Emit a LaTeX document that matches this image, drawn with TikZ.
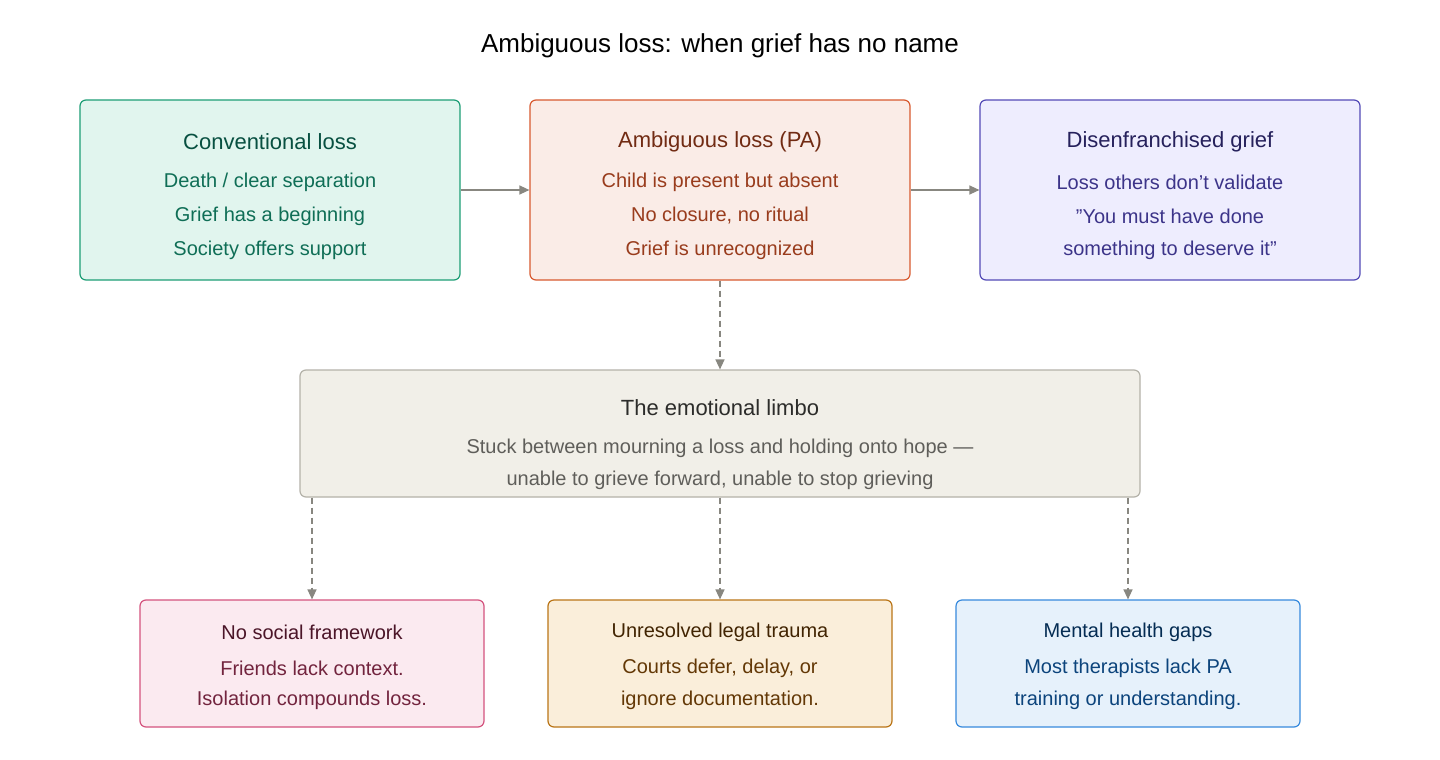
\documentclass[tikz,border=0pt]{standalone}
\usepackage{fontspec}
\setmainfont{Liberation Sans}
\usetikzlibrary{arrows.meta}
\definecolor{gF}{HTML}{E1F5EE}\definecolor{gB}{HTML}{1D9E75}\definecolor{gT}{HTML}{085041}\definecolor{gX}{HTML}{0F6E56}
\definecolor{oF}{HTML}{FAECE7}\definecolor{oB}{HTML}{D85A30}\definecolor{oT}{HTML}{712B13}\definecolor{oX}{HTML}{993C1D}
\definecolor{pF}{HTML}{EEEDFE}\definecolor{pB}{HTML}{534AB7}\definecolor{pT}{HTML}{26215C}\definecolor{pX}{HTML}{3C3489}
\definecolor{lF}{HTML}{F1EFE8}\definecolor{lB}{HTML}{B4B2A9}\definecolor{lT}{HTML}{2C2C2A}\definecolor{lX}{HTML}{5F5E5A}
\definecolor{kF}{HTML}{FBEAF0}\definecolor{kB}{HTML}{D4537E}\definecolor{kT}{HTML}{4B1528}\definecolor{kX}{HTML}{72243E}
\definecolor{aF}{HTML}{FAEEDA}\definecolor{aB}{HTML}{BA7517}\definecolor{aT}{HTML}{412402}\definecolor{aX}{HTML}{633806}
\definecolor{bF}{HTML}{E6F1FB}\definecolor{bB}{HTML}{378ADD}\definecolor{bT}{HTML}{042C53}\definecolor{bX}{HTML}{0C447C}
\definecolor{arr}{HTML}{888780}
\begin{document}
\begin{tikzpicture}[x=0.5pt,y=-0.5pt,
  box/.style={draw,rounded corners=3pt,line width=0.6pt,inner sep=0pt},
  big/.style={box,minimum width=190pt,minimum height=90pt},
  small/.style={box,minimum width=172pt,minimum height=63.5pt},
  ttl/.style={font=\fontsize{11}{13}\selectfont},
  txt/.style={font=\fontsize{10}{12}\selectfont},
  conn/.style={draw=arr,line width=0.7pt,-{Triangle[length=5pt,width=4.5pt]}},
  dconn/.style={conn,dash pattern=on 3pt off 2pt}]
\fill[white] (0,0) rectangle (1440,760);
\node[font=\fontsize{13}{15}\selectfont] (title) at (720,46) {Ambiguous loss: when grief has no name};
% top boxes
\node[big,fill=gF,draw=gB] (conv) at (270,190) {};
\node[big,fill=oF,draw=oB] (amb) at (720,190) {};
\node[big,fill=pF,draw=pB] (dis) at (1170,190) {};
\node[ttl,text=gT] (convt) at (270,142) {Conventional loss};
\node[txt,text=gX] (conv1) at (270,182) {Death / clear separation};
\node[txt,text=gX] (conv2) at (270,216) {Grief has a beginning};
\node[txt,text=gX] (conv3) at (270,250) {Society offers support};
\node[ttl,text=oT] (ambt) at (720,142) {Ambiguous loss (PA)};
\node[txt,text=oX] (amb1) at (720,182) {Child is present but absent};
\node[txt,text=oX] (amb2) at (720,216) {No closure, no ritual};
\node[txt,text=oX] (amb3) at (720,250) {Grief is unrecognized};
\node[ttl,text=pT] (dist) at (1170,142) {Disenfranchised grief};
\node[txt,text=pX] (dis1) at (1170,182) {Loss others don't validate};
\node[txt,text=pX] (dis2) at (1170,216) {"You must have done};
\node[txt,text=pX] (dis3) at (1170,250) {something to deserve it"};
% limbo
\node[box,fill=lF,draw=lB,minimum width=420pt,minimum height=63.5pt] (limbo) at (720,433.5) {};
\node[ttl,text=lT] (limbot) at (720,408) {The emotional limbo};
\node[txt,text=lX] (limbo1) at (720,448) {Stuck between mourning a loss and holding onto hope —};
\node[txt,text=lX] (limbo2) at (720,480) {unable to grieve forward, unable to stop grieving};
% bottom
\node[small,fill=kF,draw=kB] (soc) at (312,663.5) {};
\node[small,fill=aF,draw=aB] (leg) at (720,663.5) {};
\node[small,fill=bF,draw=bB] (men) at (1128,663.5) {};
\node[txt,text=kT] (soct) at (312,632) {No social framework};
\node[txt,text=kX] (soc1) at (312,668) {Friends lack context.};
\node[txt,text=kX] (soc2) at (312,700) {Isolation compounds loss.};
\node[txt,text=aT] (legt) at (720,632) {Unresolved legal trauma};
\node[txt,text=aX] (leg1) at (720,668) {Courts defer, delay, or};
\node[txt,text=aX] (leg2) at (720,700) {ignore documentation.};
\node[txt,text=bT] (ment) at (1128,632) {Mental health gaps};
\node[txt,text=bX] (men1) at (1128,668) {Most therapists lack PA};
\node[txt,text=bX] (men2) at (1128,700) {training or understanding.};
% connectors
\draw[conn] (conv.east) -- (amb.west);
\draw[conn] (amb.east) -- (dis.west);
\draw[dconn] (amb.south) -- (limbo.north);
\draw[dconn] (limbo.south -| soc.north) -- (soc.north);
\draw[dconn] (limbo.south) -- (leg.north);
\draw[dconn] (limbo.south -| men.north) -- (men.north);
\end{tikzpicture}
\end{document}
